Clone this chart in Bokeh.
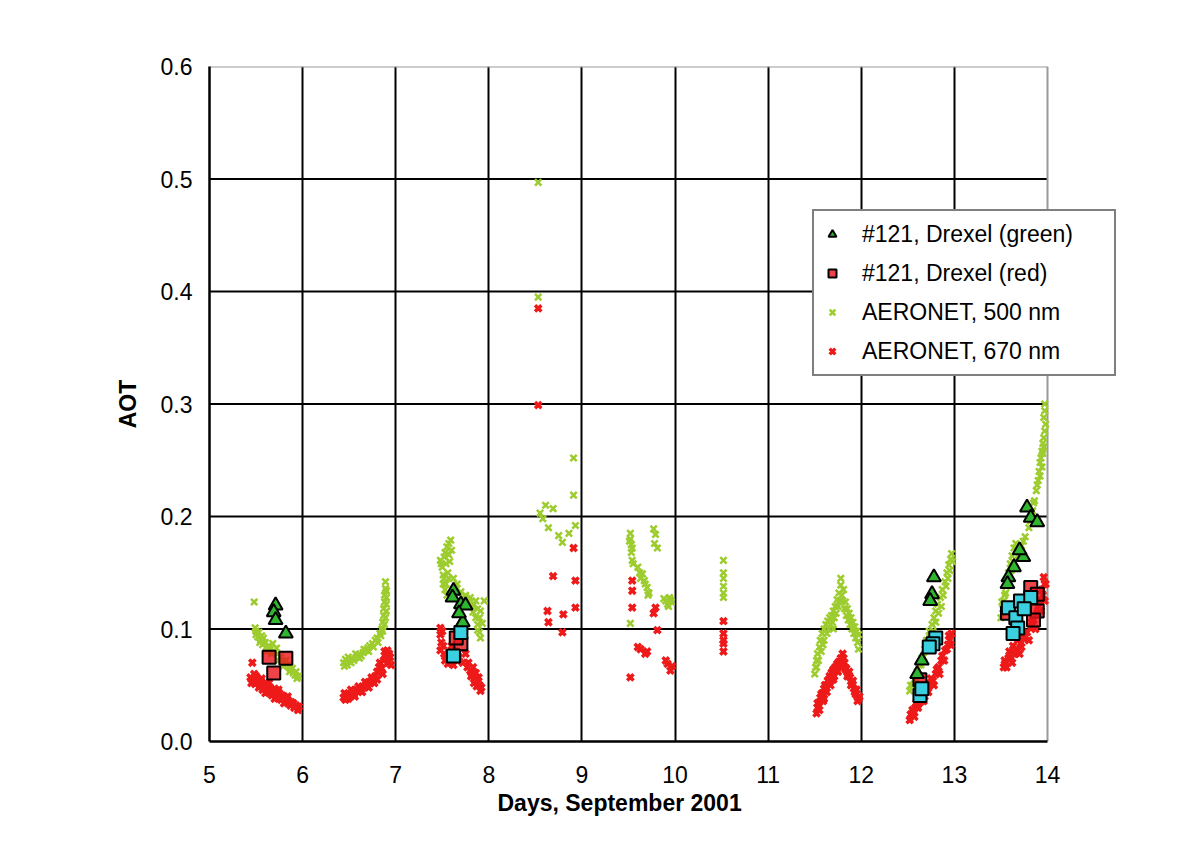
from bokeh.plotting import figure
from bokeh.models import (Range1d, FixedTicker, NumeralTickFormatter, Legend, LegendItem, Title)
from bokeh.embed import file_html
from bokeh.resources import INLINE

# ---------------- data ----------------
aer500_day = [
    5.48, 5.49, 5.50, 5.52, 5.53, 5.55, 5.57, 5.58, 5.60, 5.62, 5.65, 5.68, 5.70, 5.73, 5.76, 5.78,
    5.80, 5.83, 5.85, 5.87, 5.90, 5.92, 5.94,
    5.50, 5.54, 5.56, 5.61, 5.64, 5.67, 5.72, 5.74, 5.79, 5.82, 5.86, 5.89, 5.93, 5.95,
    6.44, 6.46, 6.48, 6.50, 6.53, 6.55, 6.58, 6.60, 6.63, 6.65, 6.68, 6.70, 6.72, 6.75, 6.78, 6.80,
    6.83, 6.85, 6.86, 6.87, 6.87, 6.88, 6.88, 6.89, 6.89,
    6.45, 6.49, 6.52, 6.57, 6.61, 6.66, 6.71, 6.76, 6.81, 6.84, 6.86, 6.88, 6.89, 6.90, 6.90, 6.90, 6.90,
    7.48, 7.50, 7.51, 7.51, 7.53, 7.55, 7.57, 7.59, 7.56, 7.58, 7.53, 7.55, 7.62, 7.66, 7.70, 7.75,
    7.80, 7.84, 7.88, 7.91, 7.86, 7.88, 7.88, 7.91, 7.83, 7.95,
    7.49, 7.52, 7.54, 7.57, 7.60, 7.52, 7.54, 7.57, 7.64, 7.72, 7.78, 7.82, 7.86, 7.90, 7.93, 7.90,
    8.53, 8.53, 8.61, 8.69, 8.64, 8.79, 8.91, 8.91, 8.93, 8.58, 8.75, 8.55, 8.86,
    9.52, 9.52, 9.53, 9.53, 9.54, 9.52, 9.62, 9.65, 9.67, 9.70, 9.72, 9.77, 9.79, 9.81, 9.88, 9.90,
    9.92, 9.94, 9.96, 9.60, 9.51, 9.54, 9.55, 9.63, 9.68, 9.71, 9.78, 9.93, 9.95,
    10.52, 10.52, 10.52, 10.52, 10.52, 10.52,
    11.50, 11.51, 11.52, 11.53, 11.55, 11.56, 11.58, 11.60, 11.62, 11.64, 11.66, 11.68, 11.70, 11.72,
    11.74, 11.76, 11.78, 11.78, 11.80, 11.82, 11.84, 11.86, 11.88, 11.90, 11.92, 11.94, 11.96, 11.97,
    11.60, 11.70,
    11.52, 11.54, 11.57, 11.59, 11.63, 11.65, 11.67, 11.69, 11.71, 11.73, 11.75, 11.77, 11.79, 11.81,
    11.83, 11.85, 11.87, 11.89, 11.91, 11.93, 11.95, 11.97,
    12.52, 12.55, 12.58, 12.60, 12.62, 12.65, 12.68, 12.70, 12.73, 12.76, 12.78, 12.80, 12.82, 12.85,
    12.87, 12.90, 12.92, 12.94, 12.96, 12.97,
    12.53, 12.57, 12.61, 12.64, 12.67, 12.71, 12.74, 12.77, 12.80, 12.83, 12.86, 12.88, 12.91, 12.93,
    12.95, 12.98,
    13.50, 13.52, 13.53, 13.55, 13.56, 13.58, 13.60, 13.62, 13.64, 13.66, 13.70, 13.74, 13.80, 13.84,
    13.86, 13.88, 13.90, 13.91, 13.92, 13.93, 13.94, 13.95, 13.96, 13.96, 13.97, 13.97,
    13.51, 13.54, 13.57, 13.59, 13.61, 13.63, 13.68, 13.72, 13.76, 13.82, 13.85, 13.89, 13.92, 13.94,
    13.95, 13.96, 13.97, 13.98,
]
aer500_aot = [
    0.124, 0.101, 0.098, 0.093, 0.097, 0.090, 0.086, 0.092, 0.088, 0.084, 0.082, 0.087, 0.080, 0.078,
    0.075, 0.072, 0.070, 0.068, 0.066, 0.064, 0.061, 0.059, 0.056,
    0.095, 0.088, 0.094, 0.080, 0.085, 0.078, 0.083, 0.072, 0.067, 0.072, 0.062, 0.065, 0.062, 0.058,
    0.070, 0.073, 0.068, 0.071, 0.074, 0.072, 0.075, 0.077, 0.076, 0.079, 0.081, 0.083, 0.085, 0.087,
    0.090, 0.092, 0.096, 0.100, 0.106, 0.112, 0.118, 0.124, 0.130, 0.136, 0.142,
    0.067, 0.075, 0.070, 0.078, 0.074, 0.082, 0.080, 0.084, 0.088, 0.094, 0.098, 0.104, 0.110, 0.116,
    0.122, 0.128, 0.134,
    0.161, 0.155, 0.148, 0.140, 0.168, 0.173, 0.176, 0.179, 0.150, 0.160, 0.135, 0.130, 0.145, 0.140,
    0.133, 0.130, 0.128, 0.122, 0.118, 0.116, 0.110, 0.104, 0.099, 0.092, 0.115, 0.125,
    0.158, 0.164, 0.158, 0.166, 0.170, 0.145, 0.140, 0.145, 0.135, 0.128, 0.124, 0.120, 0.125, 0.110,
    0.105, 0.097,
    0.497, 0.395, 0.210, 0.207, 0.190, 0.177, 0.252, 0.219, 0.192, 0.198, 0.183, 0.203, 0.185,
    0.185, 0.180, 0.175, 0.168, 0.161, 0.105, 0.150, 0.149, 0.143, 0.137, 0.132, 0.189, 0.184, 0.172,
    0.127, 0.125, 0.122, 0.128, 0.124, 0.155, 0.178, 0.172, 0.158, 0.145, 0.140, 0.130, 0.176, 0.120,
    0.126,
    0.161, 0.150, 0.145, 0.138, 0.132, 0.128,
    0.060, 0.066, 0.072, 0.078, 0.084, 0.090, 0.096, 0.100, 0.104, 0.107, 0.110, 0.112, 0.116, 0.120,
    0.126, 0.132, 0.139, 0.145, 0.125, 0.118, 0.112, 0.108, 0.104, 0.100, 0.096, 0.092, 0.088, 0.082,
    0.090, 0.100,
    0.066, 0.072, 0.080, 0.086, 0.096, 0.100, 0.104, 0.106, 0.110, 0.114, 0.120, 0.125, 0.130, 0.135,
    0.124, 0.118, 0.114, 0.110, 0.106, 0.102, 0.098, 0.095,
    0.045, 0.050, 0.056, 0.062, 0.068, 0.074, 0.082, 0.090, 0.098, 0.104, 0.110, 0.116, 0.122, 0.128,
    0.135, 0.142, 0.150, 0.157, 0.162, 0.167,
    0.050, 0.055, 0.060, 0.068, 0.075, 0.085, 0.092, 0.098, 0.106, 0.114, 0.120, 0.130, 0.138, 0.145,
    0.152, 0.160,
    0.110, 0.118, 0.125, 0.132, 0.138, 0.150, 0.158, 0.165, 0.172, 0.176, 0.170, 0.178, 0.190, 0.205,
    0.214, 0.223, 0.232, 0.240, 0.248, 0.252, 0.258, 0.265, 0.270, 0.288, 0.294, 0.300,
    0.124, 0.130, 0.142, 0.146, 0.152, 0.160, 0.165, 0.174, 0.182, 0.196, 0.212, 0.228, 0.236, 0.244,
    0.256, 0.262, 0.276, 0.282,
]

aer670_day = [
    5.46, 5.44, 5.47, 5.50, 5.52, 5.55, 5.58, 5.60, 5.62, 5.65, 5.68, 5.70, 5.72, 5.75, 5.78, 5.80,
    5.83, 5.85, 5.88, 5.90, 5.93, 5.96, 5.60, 5.70, 5.80,
    5.45, 5.49, 5.53, 5.57, 5.63, 5.67, 5.73, 5.77, 5.82, 5.87, 5.91, 5.95, 5.48, 5.56, 5.64, 5.74, 5.84,
    6.44, 6.46, 6.48, 6.50, 6.53, 6.55, 6.58, 6.60, 6.62, 6.65, 6.68, 6.70, 6.73, 6.75, 6.78, 6.80,
    6.82, 6.85, 6.87, 6.88, 6.90, 6.92, 6.94, 6.95,
    6.45, 6.49, 6.52, 6.56, 6.60, 6.64, 6.67, 6.71, 6.74, 6.77, 6.80, 6.83, 6.86, 6.89, 6.91, 6.93,
    7.48, 7.48, 7.49, 7.48, 7.52, 7.55, 7.56, 7.58, 7.60, 7.64, 7.68, 7.75, 7.78, 7.80, 7.82, 7.85,
    7.88, 7.90, 7.91, 7.83, 7.87,
    7.50, 7.51, 7.53, 7.57, 7.62, 7.66, 7.72, 7.77, 7.81, 7.84, 7.86, 7.89, 7.92,
    8.53, 8.53, 8.91, 8.69, 8.93, 8.93, 8.80, 8.63, 8.64, 8.79,
    9.54, 9.54, 9.54, 9.79, 9.77, 9.81, 9.60, 9.63, 9.68, 9.70, 9.92, 9.90, 9.95, 9.97, 9.52,
    10.52, 10.52, 10.52, 10.52, 10.52,
    11.52, 11.53, 11.55, 11.56, 11.58, 11.60, 11.62, 11.64, 11.66, 11.68, 11.70, 11.72, 11.74, 11.76,
    11.78, 11.80, 11.82, 11.84, 11.86, 11.88, 11.90, 11.92, 11.94, 11.96, 11.98, 11.60, 11.70,
    11.53, 11.55, 11.57, 11.59, 11.61, 11.63, 11.65, 11.67, 11.69, 11.71, 11.73, 11.75, 11.77, 11.79,
    11.81, 11.83, 11.85, 11.87, 11.89, 11.91, 11.93, 11.95, 11.97,
    12.52, 12.54, 12.56, 12.58, 12.60, 12.62, 12.65, 12.68, 12.70, 12.73, 12.77, 12.80, 12.83, 12.86,
    12.90, 12.93, 12.95, 12.97,
    12.53, 12.55, 12.57, 12.59, 12.61, 12.64, 12.67, 12.69, 12.72, 12.75, 12.78, 12.81, 12.84, 12.87,
    12.89, 12.92, 12.94, 12.96,
    13.53, 13.55, 13.58, 13.60, 13.64, 13.66, 13.71, 13.74, 13.78, 13.82, 13.85, 13.89, 13.92, 13.94,
    13.96, 13.97, 13.62, 13.70,
    13.54, 13.56, 13.59, 13.61, 13.63, 13.65, 13.68, 13.72, 13.76, 13.80, 13.83, 13.87, 13.90, 13.93,
    13.95, 13.98, 13.97,
]
aer670_aot = [
    0.070, 0.057, 0.055, 0.058, 0.053, 0.054, 0.050, 0.052, 0.048, 0.048, 0.045, 0.047, 0.043, 0.043,
    0.041, 0.040, 0.038, 0.036, 0.035, 0.034, 0.032, 0.031, 0.043, 0.038, 0.034,
    0.052, 0.051, 0.048, 0.046, 0.044, 0.041, 0.039, 0.037, 0.035, 0.032, 0.030, 0.028, 0.060, 0.056,
    0.052, 0.046, 0.040,
    0.039, 0.037, 0.042, 0.040, 0.043, 0.042, 0.046, 0.045, 0.045, 0.048, 0.050, 0.052, 0.052, 0.055,
    0.058, 0.062, 0.066, 0.065, 0.072, 0.080, 0.077, 0.070, 0.075, 0.068,
    0.043, 0.038, 0.046, 0.040, 0.049, 0.044, 0.053, 0.048, 0.057, 0.052, 0.055, 0.070, 0.060, 0.074,
    0.081, 0.078,
    0.101, 0.095, 0.088, 0.081, 0.078, 0.074, 0.069, 0.072, 0.085, 0.080, 0.075, 0.078, 0.070, 0.063,
    0.060, 0.057, 0.054, 0.050, 0.045, 0.066, 0.049,
    0.098, 0.085, 0.072, 0.078, 0.068, 0.072, 0.070, 0.066, 0.058, 0.052, 0.061, 0.057, 0.048,
    0.385, 0.299, 0.172, 0.147, 0.143, 0.119, 0.113, 0.116, 0.106, 0.097,
    0.143, 0.134, 0.119, 0.119, 0.114, 0.099, 0.084, 0.082, 0.078, 0.080, 0.069, 0.072, 0.063, 0.067,
    0.057,
    0.107, 0.096, 0.090, 0.087, 0.080,
    0.025, 0.030, 0.035, 0.039, 0.043, 0.047, 0.050, 0.054, 0.058, 0.061, 0.064, 0.066, 0.069, 0.071,
    0.074, 0.078, 0.070, 0.065, 0.060, 0.057, 0.052, 0.047, 0.042, 0.036, 0.040, 0.038, 0.055,
    0.034, 0.028, 0.042, 0.036, 0.050, 0.044, 0.055, 0.050, 0.062, 0.058, 0.066, 0.062, 0.070, 0.066,
    0.074, 0.064, 0.058, 0.062, 0.050, 0.054, 0.044, 0.046, 0.038,
    0.019, 0.024, 0.027, 0.030, 0.032, 0.034, 0.036, 0.040, 0.045, 0.050, 0.054, 0.060, 0.066, 0.072,
    0.081, 0.086, 0.090, 0.096,
    0.024, 0.028, 0.022, 0.034, 0.030, 0.040, 0.036, 0.048, 0.044, 0.056, 0.050, 0.064, 0.060, 0.076,
    0.072, 0.082, 0.094, 0.086,
    0.066, 0.070, 0.074, 0.076, 0.078, 0.082, 0.087, 0.092, 0.097, 0.101, 0.108, 0.114, 0.125, 0.135,
    0.146, 0.140, 0.070, 0.078,
    0.072, 0.066, 0.080, 0.074, 0.085, 0.078, 0.090, 0.084, 0.094, 0.090, 0.106, 0.100, 0.120, 0.116,
    0.130, 0.140, 0.125,
]

drexel_green_day = [5.71, 5.69, 5.71, 5.82, 7.62, 7.61, 7.70, 7.75, 7.72, 7.68,
                    12.78, 12.76, 12.74, 12.65, 12.60,
                    13.78, 13.82, 13.89, 13.74, 13.64, 13.58, 13.57, 13.70]
drexel_green_aot = [0.121, 0.115, 0.108, 0.096, 0.134, 0.128, 0.122, 0.121, 0.106, 0.114,
                    0.146, 0.131, 0.125, 0.072, 0.060,
                    0.208, 0.199, 0.195, 0.164, 0.155, 0.146, 0.140, 0.170]

drexel_red_day = [5.64, 5.82, 5.69, 7.70, 7.65, 12.63, 13.57, 13.82, 13.89, 13.89, 13.85]
drexel_red_aot = [0.075, 0.074, 0.061, 0.087, 0.092, 0.055, 0.114, 0.137, 0.131, 0.116, 0.108]

drexel_blue_day = [7.70, 7.62, 12.80, 12.77, 12.73, 12.63, 12.65,
                   13.58, 13.71, 13.82, 13.66, 13.68, 13.63, 13.75]
drexel_blue_aot = [0.097, 0.076, 0.092, 0.087, 0.084, 0.041, 0.047,
                   0.119, 0.125, 0.128, 0.110, 0.101, 0.096, 0.118]

x_ticks = [5, 6, 7, 8, 9, 10, 11, 12, 13, 14]
y_ticks = [0.0, 0.1, 0.2, 0.3, 0.4, 0.5, 0.6]

FONT = "Liberation Sans"

# plot frame: data area 5..14 is 838 px wide; the frame is extended to the right so that the
# legend (which pokes out of the data area) is not clipped.
X0, X1 = x_ticks[0], x_ticks[-1]
Y0, Y1 = y_ticks[0], y_ticks[-1]
W, H = 1171, 853
data_px = 838
frame_px = 916
x_end = X1 + (frame_px - data_px) * (X1 - X0) / data_px

p = figure(width=W, height=H, output_backend="svg", toolbar_location=None,
           x_range=Range1d(X0, x_end), y_range=Range1d(Y0, Y1),
           min_border_left=209, min_border_right=W - 209 - frame_px,
           min_border_top=66, min_border_bottom=H - 66 - 675)
p.background_fill_color = "white"
p.border_fill_color = "white"
p.outline_line_color = None

# grid: vertical interior lines via the grid, horizontal ones limited to the data area
p.xgrid.ticker = FixedTicker(ticks=x_ticks[1:-1])
p.xgrid.grid_line_color = "black"
p.xgrid.grid_line_width = 2
p.ygrid.grid_line_color = None
inner_y = y_ticks[1:-1]
p.segment(x0=[X0] * len(inner_y), x1=[X1] * len(inner_y), y0=inner_y, y1=inner_y,
          line_color="black", line_width=2)
# grey top and right edges of the data area
p.segment(x0=[X0, X1], x1=[X1, X1], y0=[Y1, Y0], y1=[Y1, Y1], line_color="#9a9a9a", line_width=2)

for ax in (p.xaxis, p.yaxis):
    ax.axis_line_color = "black"
    ax.axis_line_width = 2.5
    ax.major_tick_line_color = None
    ax.minor_tick_line_color = None
    ax.major_label_text_font = FONT
    ax.major_label_text_font_size = "23px"
    ax.major_label_text_color = "black"
    ax.axis_label_text_font = FONT
    ax.axis_label_text_font_size = "23px"
    ax.axis_label_text_font_style = "bold"
    ax.axis_label_text_color = "black"

p.xaxis.ticker = FixedTicker(ticks=x_ticks)
p.xaxis.bounds = (X0, X1)
p.yaxis.ticker = FixedTicker(ticks=y_ticks)
p.yaxis.formatter = NumeralTickFormatter(format="0.0")
p.yaxis.axis_label = "AOT"
p.xaxis.major_label_standoff = 18
p.yaxis.major_label_standoff = 11
p.yaxis.axis_label_standoff = 17

xtitle = Title(text="Days, September 2001", align="left", offset=288,
               text_font=FONT, text_font_size="23px", text_font_style="bold",
               text_color="black", standoff=4)
p.add_layout(xtitle, "below")

r500 = p.scatter(aer500_day, aer500_aot, marker="x", size=9, line_color="#9dcc2e", line_width=2.6)
r670 = p.scatter(aer670_day, aer670_aot, marker="x", size=9, line_color="#ee1a1a", line_width=3.4)
rred = p.scatter(drexel_red_day, drexel_red_aot, marker="square", size=13, fill_color="#e8141c",
                 fill_alpha=0.8, line_color="black", line_width=2)
rblue = p.scatter(drexel_blue_day, drexel_blue_aot, marker="square", size=13, fill_color="#3ad0e0",
                  line_color="black", line_width=2)
rgreen = p.scatter(drexel_green_day, drexel_green_aot, marker="triangle", size=14, fill_color="#2fb52f",
                   line_color="black", line_width=2)

legend = Legend(items=[
    LegendItem(label="#121, Drexel (green)", renderers=[rgreen]),
    LegendItem(label="#121, Drexel (red)", renderers=[rred]),
    LegendItem(label="AERONET, 500 nm", renderers=[r500]),
    LegendItem(label="AERONET, 670 nm", renderers=[r670]),
], location=(603, 365))
legend.label_text_font = FONT
legend.label_text_font_size = "23px"
legend.label_text_color = "black"
legend.border_line_color = "black"
legend.border_line_width = 2
legend.background_fill_color = "white"
legend.background_fill_alpha = 1
legend.padding = 8
legend.spacing = 9
legend.glyph_width = 20
legend.glyph_height = 30
legend.label_height = 30
legend.label_standoff = 20
legend.label_width = 244
legend.margin = 0
p.add_layout(legend)

open("out.html", "w").write(file_html(p, INLINE))
